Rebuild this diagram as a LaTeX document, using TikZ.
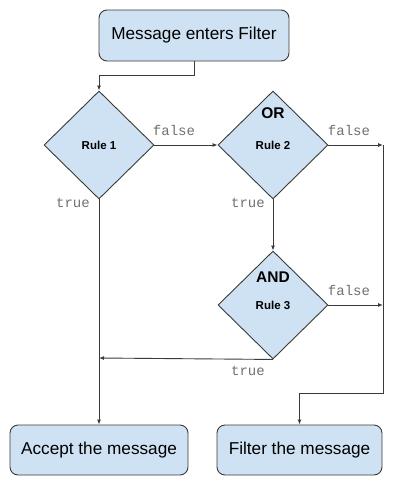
\documentclass[tikz,border=0pt]{standalone}
\usepackage{fontspec}
\setmainfont{Liberation Sans}
\newfontfamily\monof{Liberation Mono}
\usetikzlibrary{shapes.geometric,arrows.meta}
\definecolor{boxfill}{HTML}{CFE2F3}
\definecolor{edge}{HTML}{3A3A3A}
\definecolor{lbl}{HTML}{707070}
\tikzset{
  stepbox/.style={draw=edge, fill=boxfill, line width=0.9pt, rounded corners=8pt, inner sep=0pt, font=\fontsize{17.2}{19}\selectfont},
  rule/.style={draw=edge, fill=boxfill, line width=0.9pt, shape=diamond, aspect=1, minimum width=110pt, minimum height=108pt, inner sep=0pt, font=\bfseries\fontsize{11.5}{13}\selectfont},
  op/.style={font=\bfseries\fontsize{15.5}{17}\selectfont},
  tf/.style={font=\monof\fontsize{14}{16}\selectfont, text=lbl, inner sep=0pt},
  conn/.style={draw=edge, line width=0.9pt, -{Latex[length=5pt,width=4pt]}},
  plain/.style={draw=edge, line width=0.9pt}
}
\begin{document}
\begin{tikzpicture}[x=1pt,y=-1pt]
\useasboundingbox (0,0) rectangle (400,485);
\node[stepbox, minimum width=190pt, minimum height=51pt] (start) at (194,35.5) {Message enters Filter};
\node[rule] (r1) at (99,145) {Rule 1};
\node[rule] (r2) at (273,145) {Rule 2};
\node[rule] (r3) at (273,305) {Rule 3};
\node[op] (or) at (273,113) {OR};
\node[op] (and) at (273,277) {AND};
\node[stepbox, minimum width=178pt, minimum height=50pt] (accept) at (99,450) {Accept the message};
\node[stepbox, minimum width=165pt, minimum height=50pt] (filter) at (299.5,450) {Filter the message};
\coordinate (m1) at (383,145);
\coordinate (m3) at (383,305);
\coordinate (j3) at (99,358);
\node[tf] (f1) at (174,130) {false};
\node[tf] (f2) at (349,130) {false};
\node[tf] (f3) at (349,290) {false};
\node[tf] (t1) at (73,203) {true};
\node[tf] (t2) at (248,203) {true};
\node[tf] (t3) at (248,371) {true};
\draw[conn] (start.south) -- (194,75) -| (r1.north);
\draw[conn] (r1.east) -- (r2.west);
\draw[conn] (r2.east) -- (m1);
\draw[conn] (r3.east) -- (m3);
\draw[conn] (r2.south) -- (r3.north);
\draw[conn] (r3.south) -- (j3);
\draw[conn] (r1.south) -- (accept.north);
\draw[conn] (m1) -- (383,393) -| (filter.north);
\end{tikzpicture}
\end{document}
